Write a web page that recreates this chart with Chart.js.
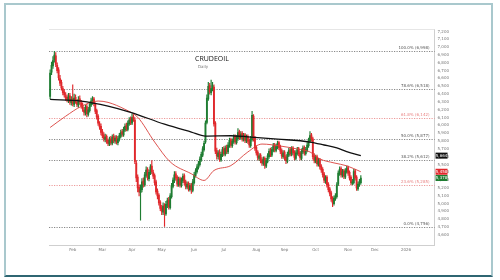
<!DOCTYPE html>
<html>
<head>
<meta charset="utf-8">
<script src="https://cdn.jsdelivr.net/npm/chart.js@4.4.1/dist/chart.umd.min.js"></script>
<style>
  html, body { margin: 0; padding: 0; background: #fff; }
  #wrap { position: relative; width: 500px; height: 280px; overflow: hidden; }
  #frame { position: absolute; left: 4px; top: 3px; width: 485px; height: 270px;
           border: 2px solid #a9c8cd; border-bottom-color: #2f6672; pointer-events: none; }
</style>
</head>
<body>
<div id="wrap">
  <canvas id="chart" width="500" height="280"></canvas>
  <div id="frame"></div>
</div>
<script>
// daily candles, index 0 = mid Jan 2025
const opens = [
  6420,6730,6810,6890,6940,6820,6760,6650,6600,6520,
  6480,6430,6410,6370,6430,6340,6390,6320,6410,6350,
  6310,6390,6340,6310,6250,6210,6290,6190,6240,6310,
  6350,6390,6320,6240,6170,6070,6040,5970,5930,5870,
  5910,5860,5810,5880,5820,5910,5850,5900,5830,5870,
  5910,5970,5930,5990,6050,6000,6070,6130,6080,6160,
  6120,5570,5390,5260,5190,5230,5340,5290,5410,5490,
  5370,5440,5530,5450,5410,5330,5210,5160,5070,5000,
  4940,5030,4920,5030,5100,5000,5140,5270,5340,5430,
  5390,5290,5370,5280,5340,5410,5330,5260,5310,5230,
  5290,5220,5320,5410,5460,5510,5550,5610,5670,5740,
  5840,6090,6390,6560,6470,6510,6540,6080,5730,5650,
  5710,5610,5670,5750,5680,5770,5710,5790,5870,5790,
  5840,5910,5830,5880,5970,5890,5950,5870,5930,5850,
  5910,5860,5790,5870,6170,5890,5770,5710,5630,5670,
  5610,5560,5630,5530,5590,5650,5730,5670,5730,5800,
  5730,5770,5830,5780,5730,5650,5710,5650,5590,5670,
  5740,5680,5760,5710,5630,5690,5750,5700,5630,5710,
  5770,5690,5730,5790,5850,5930,5880,5660,5590,5650,
  5550,5610,5530,5490,5430,5340,5390,5300,5240,5190,
  5120,5050,5110,5140,5300,5430,5500,5410,5470,5390,
  5460,5510,5450,5390,5310,5320,5470,5390,5240,5290,5320
];
const highs = [
  6760,6860,6930,6998,6980,6850,6790,6690,6630,6550,
  6510,6470,6440,6460,6460,6420,6570,6450,6440,6380,
  6420,6430,6370,6340,6280,6310,6320,6280,6350,6400,
  6420,6410,6340,6260,6190,6100,6070,6000,5960,5940,
  5930,5880,5900,5910,5930,5940,5920,5920,5910,5950,
  5990,6000,6030,6070,6080,6110,6150,6160,6200,6190,
  6150,5600,5420,5290,5290,5370,5380,5450,5520,5510,
  5480,5550,5600,5480,5430,5350,5240,5180,5090,5030,
  5060,5050,5080,5120,5130,5180,5310,5380,5460,5460,
  5410,5390,5390,5380,5430,5430,5350,5330,5330,5310,
  5310,5360,5450,5500,5550,5590,5650,5710,5780,5850,
  6110,6440,6600,6590,6630,6600,6570,6100,5760,5730,
  5740,5710,5770,5780,5790,5800,5830,5890,5890,5880,
  5930,5930,5920,6010,5990,5970,5970,5950,5950,5930,
  5930,5880,5910,6230,6190,5910,5790,5730,5690,5690,
  5640,5650,5650,5630,5690,5750,5760,5770,5820,5820,
  5810,5850,5850,5800,5750,5730,5730,5670,5710,5760,
  5770,5780,5780,5730,5730,5770,5770,5720,5750,5790,
  5790,5770,5830,5890,5970,5950,5900,5690,5670,5670,
  5630,5630,5550,5510,5450,5410,5410,5320,5260,5210,
  5140,5150,5180,5320,5470,5520,5520,5490,5490,5500,
  5530,5530,5470,5410,5360,5490,5490,5410,5330,5360,5410
];
const lows = [
  6390,6700,6780,6860,6800,6720,6630,6560,6500,6440,
  6410,6370,6350,6340,6320,6310,6300,6290,6330,6290,
  6280,6320,6270,6230,6180,6180,6160,6170,6220,6290,
  6320,6300,6200,6130,6050,6000,5930,5890,5850,5840,
  5820,5790,5790,5800,5800,5830,5820,5810,5800,5850,
  5890,5910,5910,5970,5980,5980,6050,6060,6060,6100,
  5560,5330,5200,5150,4840,5200,5260,5270,5390,5350,
  5340,5420,5430,5370,5290,5170,5110,5030,4960,4910,
  4910,4760,4900,5000,4980,4980,5120,5250,5320,5350,
  5270,5270,5260,5260,5320,5290,5240,5240,5210,5210,
  5180,5200,5300,5390,5440,5490,5530,5590,5650,5720,
  5820,6070,6370,6450,6440,6490,6040,5690,5620,5620,
  5590,5590,5650,5660,5660,5690,5690,5770,5770,5770,
  5820,5810,5810,5860,5870,5870,5850,5850,5830,5830,
  5820,5770,5770,5850,5850,5730,5670,5610,5600,5570,
  5540,5540,5500,5510,5570,5630,5650,5650,5710,5710,
  5710,5750,5740,5690,5630,5630,5610,5560,5570,5650,
  5660,5660,5670,5610,5610,5670,5660,5610,5610,5690,
  5670,5670,5710,5770,5830,5850,5620,5570,5570,5530,
  5530,5490,5450,5390,5320,5310,5260,5200,5150,5080,
  5010,5030,5090,5120,5280,5410,5390,5390,5370,5370,
  5440,5410,5350,5290,5290,5300,5350,5220,5220,5270,5300
];
const closes = [
  6720,6820,6880,6950,6830,6750,6660,6590,6530,6470,
  6440,6400,6380,6420,6350,6380,6330,6400,6360,6320,
  6380,6350,6300,6260,6220,6280,6200,6250,6320,6360,
  6380,6330,6230,6160,6080,6030,5960,5920,5880,5900,
  5850,5820,5870,5830,5900,5860,5890,5840,5880,5920,
  5960,5940,6000,6040,6010,6080,6120,6090,6150,6130,
  5590,5380,5250,5200,5240,5330,5300,5420,5480,5380,
  5450,5520,5460,5400,5320,5200,5150,5060,4990,4950,
  5020,4930,5040,5090,5010,5150,5280,5350,5420,5380,
  5300,5360,5290,5350,5400,5320,5270,5300,5240,5280,
  5230,5330,5420,5470,5520,5560,5620,5680,5750,5820,
  6080,6400,6550,6480,6520,6560,6070,5720,5660,5700,
  5620,5680,5740,5690,5760,5720,5800,5860,5800,5850,
  5900,5840,5890,5960,5900,5940,5880,5920,5860,5900,
  5850,5800,5880,6180,5880,5760,5700,5640,5660,5600,
  5570,5620,5540,5600,5660,5720,5680,5740,5790,5740,
  5780,5820,5770,5720,5660,5700,5640,5600,5680,5730,
  5690,5750,5700,5640,5700,5740,5690,5640,5720,5760,
  5700,5740,5800,5860,5920,5880,5650,5600,5640,5560,
  5600,5520,5480,5420,5350,5380,5290,5230,5180,5110,
  5060,5120,5150,5290,5440,5490,5420,5460,5400,5470,
  5500,5440,5380,5320,5330,5460,5380,5250,5300,5330,5378
];

// moving averages (day index, price)
const ma200Days = [0, 22, 41, 57, 81, 100, 110, 128, 140, 161, 184, 194, 203, 210, 220];
const ma200Vals = [6383, 6362, 6298, 6218, 6066, 5965, 5914, 5918, 5905, 5876, 5838, 5800, 5762, 5715, 5664];
const ma50Days = [0, 11, 22, 34, 41, 53, 62, 74, 85, 100, 109, 116, 128, 140, 150, 163, 175, 184, 191, 201, 210, 220];
const ma50Vals = [6024, 6168, 6294, 6362, 6345, 6256, 6155, 5838, 5584, 5432, 5347, 5474, 5537, 5711, 5812, 5787, 5749, 5711, 5622, 5571, 5534, 5458];

// fibonacci retracement levels
const fibPct = [100, 78.6, 61.8, 50, 38.2, 23.6, 0];
const fibPrice = [6998, 6518, 6142, 5877, 5612, 5285, 4756];
const fibRed = [61.8, 23.6];

// axes
const monthDays = [16, 37, 58, 79, 102, 123, 146, 166, 188, 211, 230, 252];
const monthLabels = ['Feb', 'Mar', 'Apr', 'May', 'Jun', 'Jul', 'Aug', 'Sep', 'Oct', 'Nov', 'Dec', '2026'];
const priceTicks = [4600, 4700, 4800, 4900, 5000, 5100, 5200, 5300, 5400, 5500, 5600, 5700, 5800,
  5900, 6000, 6100, 6200, 6300, 6400, 6500, 6600, 6700, 6800, 6900, 7000, 7100, 7200];

const GREEN = '#1f7d32', RED = '#e0282c';
const fmt = v => Math.round(v).toLocaleString('en-US');
const candleColors = closes.map((c, i) => c >= opens[i] ? GREEN : RED);

const overlay = {
  id: 'overlay',
  beforeDatasetsDraw(chart) {
    const { ctx, chartArea: a, scales: { y } } = chart;
    ctx.save();
    // light frame line at the top of the plot
    ctx.strokeStyle = '#e6e6e6';
    ctx.lineWidth = 1;
    ctx.beginPath(); ctx.moveTo(a.left, a.top + 0.5); ctx.lineTo(a.right, a.top + 0.5); ctx.stroke();

    ctx.lineWidth = 0.8;
    ctx.setLineDash([1.2, 1.3]);
    ctx.font = '4px "DejaVu Sans"';
    ctx.textAlign = 'right';
    ctx.textBaseline = 'bottom';
    fibPct.forEach((p, i) => {
      const py = Math.round(y.getPixelForValue(fibPrice[i])) + 0.5;
      const red = fibRed.includes(p);
      ctx.strokeStyle = red ? '#e88080' : '#6a6a6a';
      ctx.beginPath(); ctx.moveTo(a.left, py); ctx.lineTo(a.right, py); ctx.stroke();
      ctx.fillStyle = red ? '#e88080' : '#555';
      ctx.fillText(p.toFixed(1) + '% (' + fmt(fibPrice[i]) + ')', a.right - 5, py - 1.5);
    });
    ctx.restore();
  },
  afterDraw(chart) {
    const { ctx, chartArea: a, scales: { y } } = chart;
    ctx.save();
    // title
    ctx.fillStyle = '#111';
    ctx.font = '7px "Open Sans"';
    ctx.textAlign = 'left';
    ctx.textBaseline = 'middle';
    ctx.fillText('CRUDEOIL', 195, 59);
    ctx.fillStyle = '#777';
    ctx.font = '4px "DejaVu Sans"';
    ctx.fillText('Daily', 198, 67);

    // last value tags on the price axis
    const tags = [
      [ma200Vals[ma200Vals.length - 1], '#111'],
      [ma50Vals[ma50Vals.length - 1], RED],
      [closes[closes.length - 1], GREEN]
    ];
    ctx.textAlign = 'center';
    tags.forEach(([v, col]) => {
      const py = y.getPixelForValue(v);
      ctx.fillStyle = col;
      ctx.fillRect(a.right + 1, py - 3, 12, 6);
      ctx.fillStyle = '#fff';
      ctx.fillText(fmt(v), a.right + 7, py);
    });
    ctx.restore();
  }
};

new Chart(document.getElementById('chart'), {
  type: 'bar',
  data: {
    datasets: [
      {
        type: 'line',
        label: 'MA200',
        data: ma200Days.map((d, i) => ({ x: d, y: ma200Vals[i] })),
        borderColor: '#111',
        borderWidth: 1.3,
        pointRadius: 0,
        cubicInterpolationMode: 'monotone',
        order: 0
      },
      {
        type: 'line',
        label: 'MA50',
        data: ma50Days.map((d, i) => ({ x: d, y: ma50Vals[i] })),
        borderColor: '#d9413c',
        borderWidth: 0.9,
        pointRadius: 0,
        cubicInterpolationMode: 'monotone',
        order: 0
      },
      {
        label: 'wick',
        data: closes.map((c, i) => ({ x: i, y: [lows[i], highs[i]] })),
        backgroundColor: candleColors,
        barThickness: 0.5,
        grouped: false,
        order: 2
      },
      {
        label: 'body',
        data: closes.map((c, i) => ({ x: i, y: [opens[i], c] })),
        backgroundColor: candleColors,
        barThickness: 1.2,
        minBarLength: 0.6,
        grouped: false,
        order: 1
      }
    ]
  },
  options: {
    responsive: false,
    animation: false,
    devicePixelRatio: 1,
    layout: { padding: { left: 49, top: 29, right: 48, bottom: 26 } },
    plugins: { legend: { display: false }, tooltip: { enabled: false } },
    scales: {
      x: {
        type: 'linear',
        offset: false,
        min: -0.8,
        max: 272.2,
        grid: { display: false, drawTicks: false },
        border: { color: '#cfcfcf' },
        afterBuildTicks: s => { s.ticks = monthDays.map(v => ({ value: v })); },
        ticks: {
          padding: 2,
          autoSkip: false,
          maxRotation: 0,
          color: '#777',
          font: { family: 'DejaVu Sans', size: 4 },
          callback: v => monthLabels[monthDays.indexOf(v)]
        }
      },
      y: {
        position: 'right',
        min: 4519,
        max: 7283,
        grid: { display: false, drawTicks: false },
        border: { color: '#cfcfcf' },
        afterBuildTicks: s => { s.ticks = priceTicks.map(v => ({ value: v })); },
        ticks: {
          padding: 3,
          autoSkip: false,
          labelOffset: -4,
          color: '#777',
          font: { family: 'DejaVu Sans', size: 4 },
          callback: v => fmt(v)
        }
      }
    }
  },
  plugins: [overlay]
});
</script>
</body>
</html>
